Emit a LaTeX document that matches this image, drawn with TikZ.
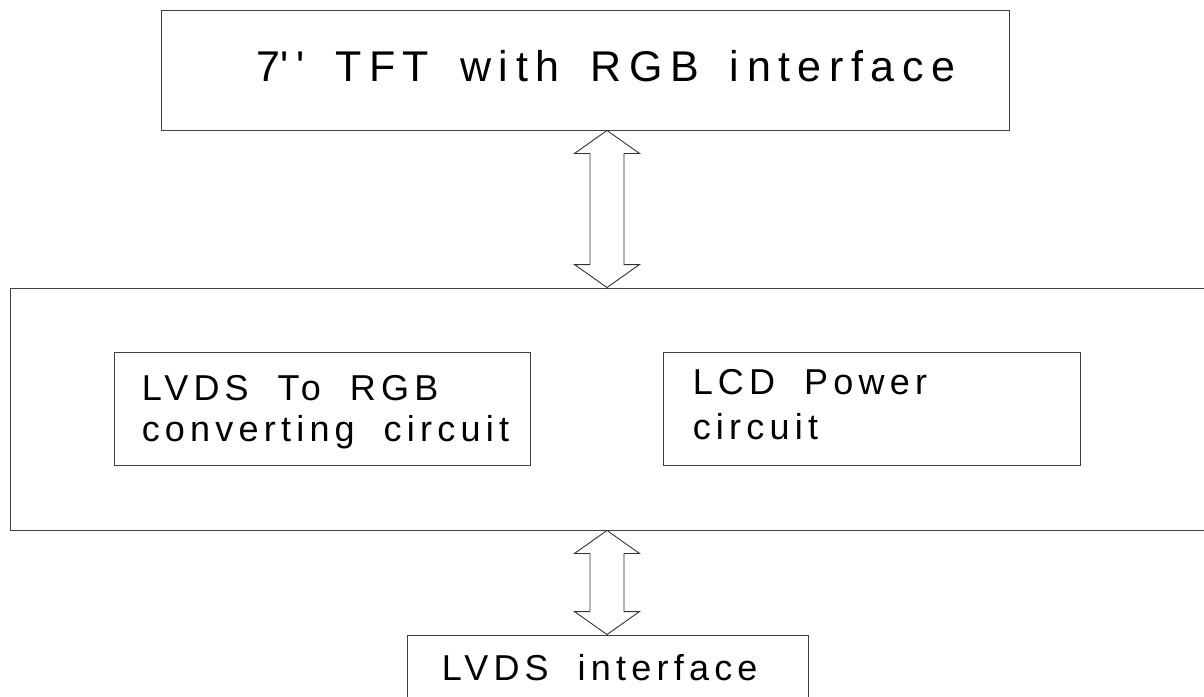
\documentclass[tikz,border=0pt]{standalone}
\usepackage{fontspec}
\setmainfont{Liberation Sans}[LetterSpace=14.5, WordSpace=1.9]
\newfontfamily\tftfont{Liberation Sans}[LetterSpace=17.5, WordSpace=1.6]
\usetikzlibrary{calc}

\tikzset{
  blk/.style={draw=black!75, line width=0.9pt, fill=white, inner sep=0pt},
  txt/.style={anchor=base west, inner sep=0pt, align=left},
  biga/.style={draw=black!80, line width=0.9pt, fill=white, line join=miter},
}

% double block arrow between two tips (top, bottom)
\newcommand{\dblarrow}[2]{%
  \draw[biga] (#1) -- ($(#1)+(32.5,23)$) -- ($(#1)+(17,23)$)
    -- ($(#2)+(17,-23)$) -- ($(#2)+(32.5,-23)$) -- (#2)
    -- ($(#2)+(-32.5,-23)$) -- ($(#2)+(-17,-23)$)
    -- ($(#1)+(-17,23)$) -- ($(#1)+(-32.5,23)$) -- cycle;}

\begin{document}
\begin{tikzpicture}[x=1pt, y=-1pt]
\clip (0,0) rectangle (1204,696);
\fill[white] (0,0) rectangle (1204,696);

\node[blk, minimum width=848pt, minimum height=120pt] (tft) at (585,70) {};
\node[blk, minimum width=1205pt, minimum height=242pt] (board) at (612.5,409) {};
\node[blk, minimum width=416pt, minimum height=113pt] (conv) at (322,408.5) {};
\node[blk, minimum width=417pt, minimum height=113pt] (power) at (871.5,408.5) {};
\node[blk, minimum width=401pt, minimum height=75pt] (iface) at (607.5,672.5) {};

% base anchor of a two-line node sits on the last line
\node[txt, font=\tftfont\fontsize{43}{50}\selectfont]
  (tfttxt) at ([shift={(96,72)}]tft.north west)
  {7\textquotesingle\,\textquotesingle\ TFT with RGB interface};
\node[txt, font=\fontsize{36}{41}\selectfont] (convtxt) at ([shift={(28,90)}]conv.north west)
  {LVDS To RGB\\converting circuit};
\node[txt, font=\fontsize{36}{45}\selectfont] (powertxt) at ([shift={(30,88)}]power.north west)
  {LCD Power\\circuit};
\node[txt, font=\fontsize{36}{41}\selectfont] (ifacetxt) at ([shift={(35,46)}]iface.north west)
  {LVDS interface};

\coordinate (up1) at (607,0 |- tft.south);
\coordinate (dn1) at (607,0 |- board.north);
\coordinate (up2) at (607,0 |- board.south);
\coordinate (dn2) at (607,0 |- iface.north);
\dblarrow{up1}{dn1}
\dblarrow{up2}{dn2}

\end{tikzpicture}
\end{document}
